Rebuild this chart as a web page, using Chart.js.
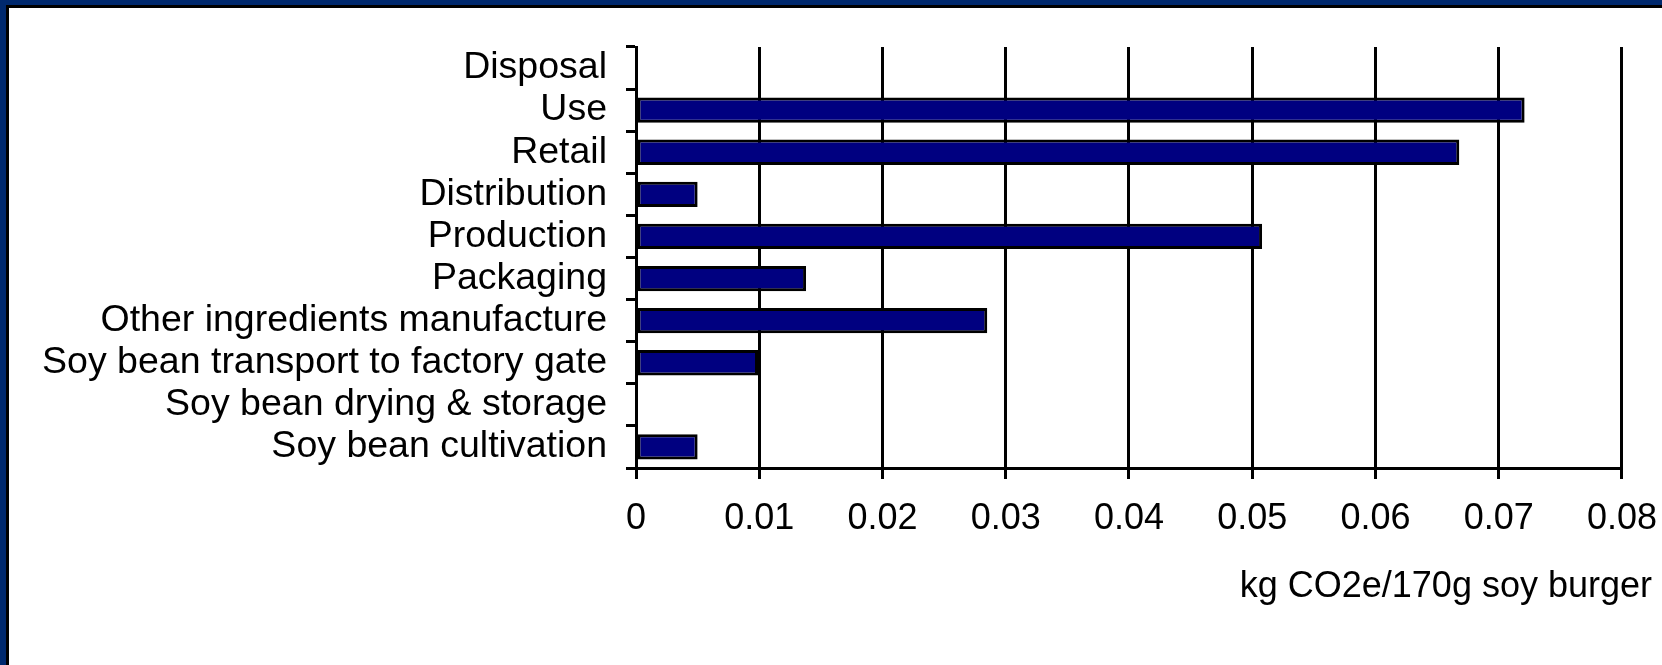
<!DOCTYPE html>
<html>
<head>
<meta charset="utf-8">
<script src="https://cdn.jsdelivr.net/npm/chart.js@4"></script>
<style>
  html, body { margin:0; padding:0; width:1662px; height:665px; overflow:hidden; background:#00296e; }
  #frame { position:absolute; left:6px; top:5px; right:0; bottom:0; background:#fff;
           border-left:3px solid #000; border-top:3px solid #000; }
  #chart { position:absolute; left:0; top:0; }
</style>
</head>
<body>
<div id="frame"></div>
<canvas id="chart" width="1662" height="665"></canvas>
<script>
// stages, top to bottom as drawn
const stages = [
  "Disposal",
  "Use",
  "Retail",
  "Distribution",
  "Production",
  "Packaging",
  "Other ingredients manufacture",
  "Soy bean transport to factory gate",
  "Soy bean drying & storage",
  "Soy bean cultivation"
];
const emissions = [0, 0.0721, 0.0668, 0.005, 0.0508, 0.0138, 0.0285, 0.0099, 0, 0.005];
const axisMin = 0, axisMax = 0.08, axisStep = 0.01;
const axisTitle = "kg CO2e/170g soy burger";

const FONT = "'Liberation Sans', Arial, sans-serif";

/* axis title sits at the right edge, past the last tick, like the original */
const titlePlugin = {
  id: "rightTitle",
  afterDraw(chart) {
    const ctx = chart.ctx;
    ctx.save();
    ctx.font = "36px " + FONT;
    ctx.fillStyle = "#000";
    ctx.textAlign = "right";
    ctx.textBaseline = "middle";
    ctx.fillText(axisTitle, 1652, 587);
    ctx.restore();
  }
};

new Chart(document.getElementById("chart"), {
  type: "bar",
  data: {
    labels: stages,
    datasets: [{
      data: emissions,
      backgroundColor: "#000080",
      borderColor: "#000",
      borderWidth: 3,
      borderSkipped: false,
      barPercentage: 0.75,
      categoryPercentage: 0.8
    }]
  },
  options: {
    indexAxis: "y",
    responsive: false,
    animation: false,
    layout: { padding: { top: 47, right: 40, left: 0, bottom: 0 } },
    plugins: { legend: { display: false }, tooltip: { enabled: false } },
    scales: {
      x: {
        min: axisMin, max: axisMax,
        afterFit(scale) { scale.height = 197; },
        // small padding + tall line height keeps the labels low without shrinking the plot
        ticks: { stepSize: axisStep, color: "#000", padding: 5, font: { family: FONT, size: 36, lineHeight: 1.94 } },
        grid: { color: "#000", lineWidth: 3, tickLength: 11 },
        border: { color: "#000", width: 3 }
      },
      y: {
        afterFit(scale) { scale.width = 636; },
        ticks: { autoSkip: false, color: "#000", padding: 19, font: { family: FONT, size: 37.5 } },
        grid: { offset: true, drawOnChartArea: false, color: "#000", lineWidth: 3, tickLength: 10 },
        border: { color: "#000", width: 3 }
      }
    }
  },
  plugins: [titlePlugin]
});
</script>
</body>
</html>
